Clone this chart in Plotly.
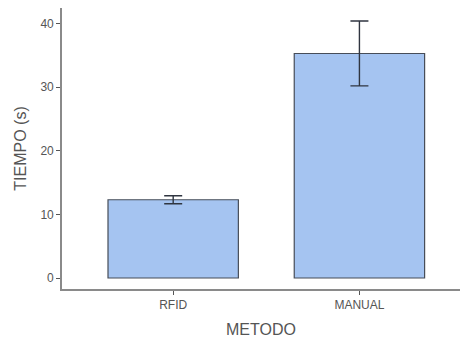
import plotly.graph_objects as go

categories = ["RFID", "MANUAL"]
tiempo_media = [12.3, 35.3]
tiempo_error = [0.63, 5.1]
y_tickvals = [0, 10, 20, 30, 40]

fig = go.Figure(
    go.Bar(
        x=categories,
        y=tiempo_media,
        width=0.70,
        marker=dict(color="#a5c4f1", line=dict(color="#474d58", width=1.2)),
        error_y=dict(type="data", array=tiempo_error, color="#2f3540", thickness=1.4, width=9),
    )
)

fig.update_layout(
    width=460,
    height=343,
    margin=dict(l=62, r=0, t=8, b=54),
    paper_bgcolor="white",
    plot_bgcolor="white",
    showlegend=False,
    font=dict(family="Liberation Sans, Arial, sans-serif", color="#555555"),
    bargap=0.3,
)
fig.update_xaxes(
    automargin=False,
    range=[-0.597, 1.54],
    showline=True,
    linecolor="#8a8a8a",
    linewidth=1.6,
    ticks="outside",
    ticklen=4,
    tickcolor="#555555",
    tickfont=dict(size=12, color="#555555"),
    title=dict(text="METODO", font=dict(size=16, color="#555555"), standoff=13),
    showgrid=False,
    zeroline=False,
)
fig.update_yaxes(
    automargin=False,
    range=[-1.73, 42.45],
    tickvals=y_tickvals,
    showline=True,
    linecolor="#8a8a8a",
    linewidth=1.6,
    ticks="outside",
    ticklen=4,
    tickcolor="#555555",
    tickfont=dict(size=12, color="#555555"),
    title=dict(text="TIEMPO (s)", font=dict(size=16, color="#555555"), standoff=10),
    showgrid=False,
    zeroline=False,
)

fig.write_html(
    "out.html",
    config={"displayModeBar": False},
    post_script="document.body.style.margin='0';document.body.style.overflow='hidden';",
)
